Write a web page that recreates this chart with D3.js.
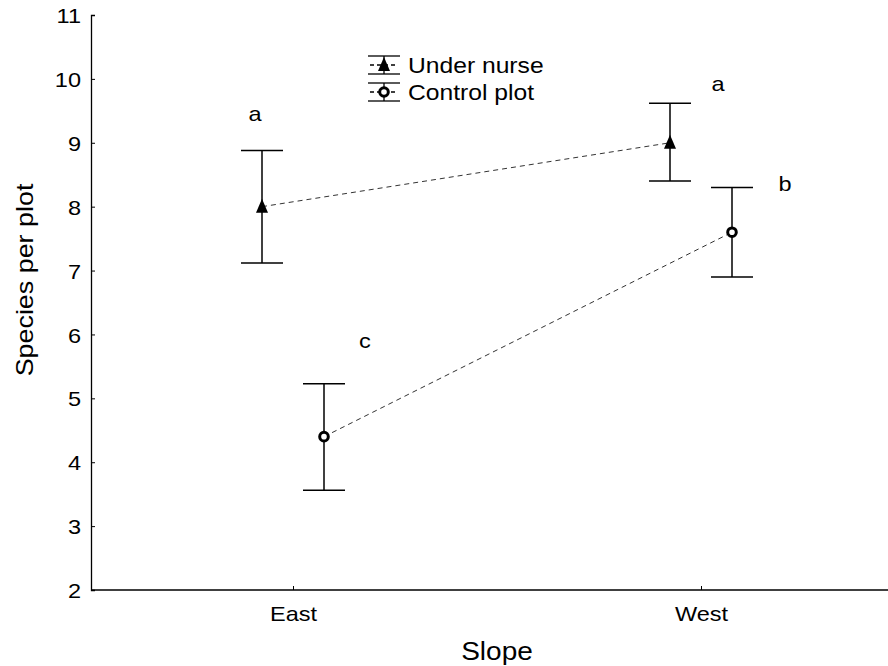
<html lang="en">
<head>
	<title>Species per plot</title>
	<script src="https://d3js.org/d3.v7.min.js" charset="utf-8"></script>
	<style>
		body { margin: 0; background: #fff; }
		text { font-family: "Liberation Sans", Arial, sans-serif; fill: #000; }
	</style>
</head>
<body>
<script>
// chart data
var slopes = ["East", "West"];
var seriesNames = ["Under nurse", "Control plot"];
var nurseMean = [8.0, 9.0];
var nurseLow = [7.12, 8.4];
var nurseHigh = [8.88, 9.62];
var controlMean = [4.4, 7.6];
var controlLow = [3.56, 6.9];
var controlHigh = [5.23, 8.3];
var yTicks = [2, 3, 4, 5, 6, 7, 8, 9, 10, 11];
// significance letters: [series, slope index, letter, y value]
var letters = [[0, 0, "a", 9.46], [0, 1, "a", 9.93], [1, 1, "b", 8.37], [1, 0, "c", 5.9]];

var w = 888, h = 666;
var mLeft = 91, mTop = 15, mBottom = 590, mRight = 888;

var svg = d3.select("body").append("svg")
	.attr("width", w)
	.attr("height", h);

// the source font is a little wider than Liberation Sans
function widen(sel, f) {
	sel.each(function() {
		var len = this.getComputedTextLength();
		d3.select(this).attr("textLength", len * f).attr("lengthAdjust", "spacingAndGlyphs");
	});
}

var x = d3.scalePoint().domain(slopes).range([293, 701]);
var y = d3.scaleLinear().domain([2, 11]).range([mBottom, mTop]);
var offset = [-31, 31]; // nurse left, control right of the tick

// y axis
var yAxis = svg.append("g")
	.attr("transform", "translate(" + mLeft + ",0)")
	.call(d3.axisLeft(y).tickValues(yTicks).tickSizeInner(-4).tickSizeOuter(-4).tickPadding(10));
yAxis.selectAll("text").style("font-size", "21px").attr("dy", "0.36em").call(widen, 1.12);
yAxis.select(".domain").attr("stroke-width", 1.3);

// x axis
var xAxis = svg.append("g")
	.attr("transform", "translate(0," + mBottom + ")")
	.call(d3.axisBottom(x).tickSizeInner(-4).tickSizeOuter(0).tickPadding(16));
xAxis.select(".domain").attr("d", "M" + mLeft + ",0H" + mRight).attr("stroke-width", 1.3);
xAxis.selectAll("text").style("font-size", "21px").call(widen, 1.12);

// axis titles
svg.append("text")
	.attr("transform", "translate(33,280) rotate(-90)")
	.attr("text-anchor", "middle")
	.style("font-size", "24px")
	.text("Species per plot")
	.call(widen, 1.12);
svg.append("text")
	.attr("x", 497).attr("y", 660)
	.attr("text-anchor", "middle")
	.style("font-size", "25px")
	.text("Slope")
	.call(widen, 1.12);

var series = [
	{ mean: nurseMean, low: nurseLow, high: nurseHigh },
	{ mean: controlMean, low: controlLow, high: controlHigh }
];

function px(s, i) { return x(slopes[i]) + offset[s]; }

// dashed connecting lines
series.forEach(function(d, s) {
	svg.append("path")
		.attr("d", d3.line()(slopes.map(function(c, i) { return [px(s, i), y(d.mean[i])]; })))
		.attr("fill", "none")
		.attr("stroke", "#333")
		.attr("stroke-width", 1)
		.attr("stroke-dasharray", "5,4");
});

// error bars
series.forEach(function(d, s) {
	slopes.forEach(function(c, i) {
		var cx = px(s, i);
		var g = svg.append("g").attr("stroke", "#000").attr("stroke-width", 1.5);
		g.append("line").attr("x1", cx).attr("x2", cx).attr("y1", y(d.low[i])).attr("y2", y(d.high[i]));
		g.append("line").attr("x1", cx - 21).attr("x2", cx + 21).attr("y1", y(d.low[i])).attr("y2", y(d.low[i]));
		g.append("line").attr("x1", cx - 21).attr("x2", cx + 21).attr("y1", y(d.high[i])).attr("y2", y(d.high[i]));
	});
});

function triangle(g, cx, cy) {
	g.append("path")
		.attr("d", "M" + cx + "," + (cy - 8) + "L" + (cx + 6) + "," + (cy + 6) + "L" + (cx - 6) + "," + (cy + 6) + "Z")
		.attr("fill", "#000");
}
function ring(g, cx, cy) {
	g.append("circle").attr("cx", cx).attr("cy", cy).attr("r", 4.3)
		.attr("fill", "#fff").attr("stroke", "#000").attr("stroke-width", 3);
}

// markers
slopes.forEach(function(c, i) {
	triangle(svg, px(0, i), y(nurseMean[i]));
	ring(svg, px(1, i), y(controlMean[i]));
});

// letters
letters.forEach(function(l) {
	var dx = l[2] === "b" ? 53 : (l[2] === "c" ? 41 : -7);
	if (l[1] === 1 && l[0] === 0) dx = 48;
	svg.append("text")
		.attr("x", px(l[0], l[1]) + dx)
		.attr("y", y(l[3]))
		.attr("text-anchor", "middle")
		.attr("dy", "0.36em")
		.style("font-size", "21px")
		.text(l[2])
		.call(widen, 1.12);
});

// legend
var legend = svg.append("g").attr("transform", "translate(368,0)");
seriesNames.forEach(function(name, s) {
	var cy = 65 + s * 27;
	var g = legend.append("g");
	g.append("line").attr("x1", 0).attr("x2", 32).attr("y1", cy - 9).attr("y2", cy - 9).attr("stroke", "#000").attr("stroke-width", 1.3);
	g.append("line").attr("x1", 0).attr("x2", 32).attr("y1", cy + 9).attr("y2", cy + 9).attr("stroke", "#000").attr("stroke-width", 1.3);
	g.append("line").attr("x1", 2).attr("x2", 30).attr("y1", cy).attr("y2", cy).attr("stroke", "#000").attr("stroke-width", 1.3).attr("stroke-dasharray", "4,3");
	g.append("line").attr("x1", 16).attr("x2", 16).attr("y1", cy - 9).attr("y2", cy + 9).attr("stroke", "#000").attr("stroke-width", 1.3);
	if (s === 0) triangle(g, 16, cy); else ring(g, 16, cy);
	g.append("text").attr("x", 40).attr("y", cy).attr("dy", "0.36em")
		.style("font-size", "22px").text(name)
		.call(widen, 1.12);
});
</script>
</body>
</html>
